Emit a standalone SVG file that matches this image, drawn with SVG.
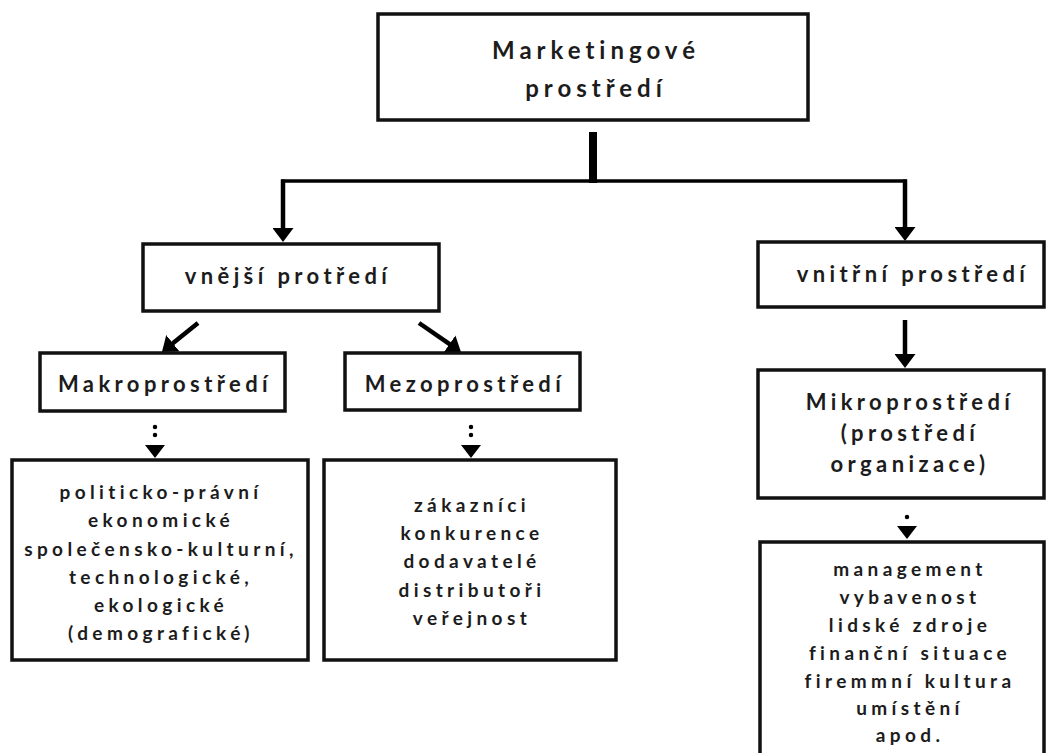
<svg xmlns="http://www.w3.org/2000/svg" width="1048" height="753" viewBox="0 0 1048 753">
<style>
.box{fill:#fff;stroke:#111;stroke-width:3.5}
.t{font-family:Lato,"Liberation Sans",sans-serif;font-weight:700;fill:#1c1c1c;text-anchor:middle}
.h{font-size:22px;letter-spacing:4.4px}
.top{font-size:24px;letter-spacing:5px}
.l{font-size:19px;letter-spacing:4.4px}
.ar{stroke:#000;stroke-width:4.5;fill:none}
.dot{stroke:#000;stroke-width:4.5;stroke-linecap:round;fill:none}
</style>
<defs>
<marker id="ah" markerUnits="userSpaceOnUse" markerWidth="15" markerHeight="21" refX="2" refY="10.5" orient="auto"><path d="M0,0 L14,10.5 L0,21 z" fill="#000"/></marker>
<marker id="ahs" markerUnits="userSpaceOnUse" markerWidth="13" markerHeight="20" refX="2" refY="10" orient="auto"><path d="M0,0 L13,10 L0,20 z" fill="#000"/></marker>
</defs>
<rect width="1048" height="753" fill="#fff"/>
<g id="connectors">
<line x1="593" y1="132" x2="593" y2="183" stroke="#000" stroke-width="8"/>
<line x1="281" y1="181" x2="907" y2="181" stroke="#000" stroke-width="3.5"/>
<line class="ar" x1="283" y1="179.5" x2="283" y2="230" marker-end="url(#ah)"/>
<line class="ar" x1="905" y1="179.5" x2="905" y2="229" marker-end="url(#ah)"/>
<line class="ar" x1="198" y1="323" x2="171.3" y2="344.5" marker-end="url(#ah)"/>
<line class="ar" x1="419" y1="323" x2="451.1" y2="345.2" marker-end="url(#ah)"/>
<line class="ar" x1="905" y1="320" x2="905" y2="356" marker-end="url(#ah)"/>
<line class="dot" x1="155" y1="427" x2="155" y2="447" stroke-dasharray="0 8 0 30" marker-end="url(#ahs)"/>
<line class="dot" x1="471" y1="427" x2="471" y2="447" stroke-dasharray="0 8 0 30" marker-end="url(#ahs)"/>
<line class="dot" x1="907" y1="517" x2="907" y2="528" stroke-dasharray="0 30" marker-end="url(#ahs)"/>
</g>
<g id="n-marketing">
<rect class="box" x="378" y="14" width="430" height="106"/>
<text class="t top" x="596" y="59">Marketingové</text>
<text class="t top" x="596" y="97">prostředí</text>
</g>
<g id="n-vnejsi">
<rect class="box" x="143" y="244" width="296" height="67"/>
<text class="t h" x="288" y="284">vnější protředí</text>
</g>
<g id="n-vnitrni">
<rect class="box" x="758" y="242" width="286" height="65"/>
<text class="t h" x="913" y="282">vnitřní prostředí</text>
</g>
<g id="n-makro">
<rect class="box" x="40" y="353" width="245" height="58"/>
<text class="t h" x="165" y="392">Makroprostředí</text>
</g>
<g id="n-mezo">
<rect class="box" x="345" y="353" width="235" height="57"/>
<text class="t h" x="465" y="392">Mezoprostředí</text>
</g>
<g id="n-mikro">
<rect class="box" x="758" y="370" width="286" height="128"/>
<text class="t h" x="910" y="410">Mikroprostředí</text>
<text class="t h" x="910" y="441">(prostředí</text>
<text class="t h" x="910" y="472">organizace)</text>
</g>
<g id="n-makro-list">
<rect class="box" x="12" y="460" width="296" height="200"/>
<text class="t l" x="161" y="499">politicko-právní</text>
<text class="t l" x="161" y="527">ekonomické</text>
<text class="t l" x="161" y="556">společensko-kulturní,</text>
<text class="t l" x="161" y="584">technologické,</text>
<text class="t l" x="161" y="612">ekologické</text>
<text class="t l" x="161" y="640">(demografické)</text>
</g>
<g id="n-mezo-list">
<rect class="box" x="324" y="460" width="292" height="200"/>
<text class="t l" x="472" y="512">zákazníci</text>
<text class="t l" x="472" y="540">konkurence</text>
<text class="t l" x="472" y="568">dodavatelé</text>
<text class="t l" x="472" y="597">distributoři</text>
<text class="t l" x="472" y="625">veřejnost</text>
</g>
<g id="n-mikro-list">
<rect class="box" x="760" y="542" width="284" height="230"/>
<text class="t l" x="910" y="576">management</text>
<text class="t l" x="910" y="604">vybavenost</text>
<text class="t l" x="910" y="632">lidské zdroje</text>
<text class="t l" x="910" y="660">finanční situace</text>
<text class="t l" x="910" y="688">firemmní kultura</text>
<text class="t l" x="910" y="715">umístění</text>
<text class="t l" x="910" y="742">apod.</text>
</g>
</svg>
